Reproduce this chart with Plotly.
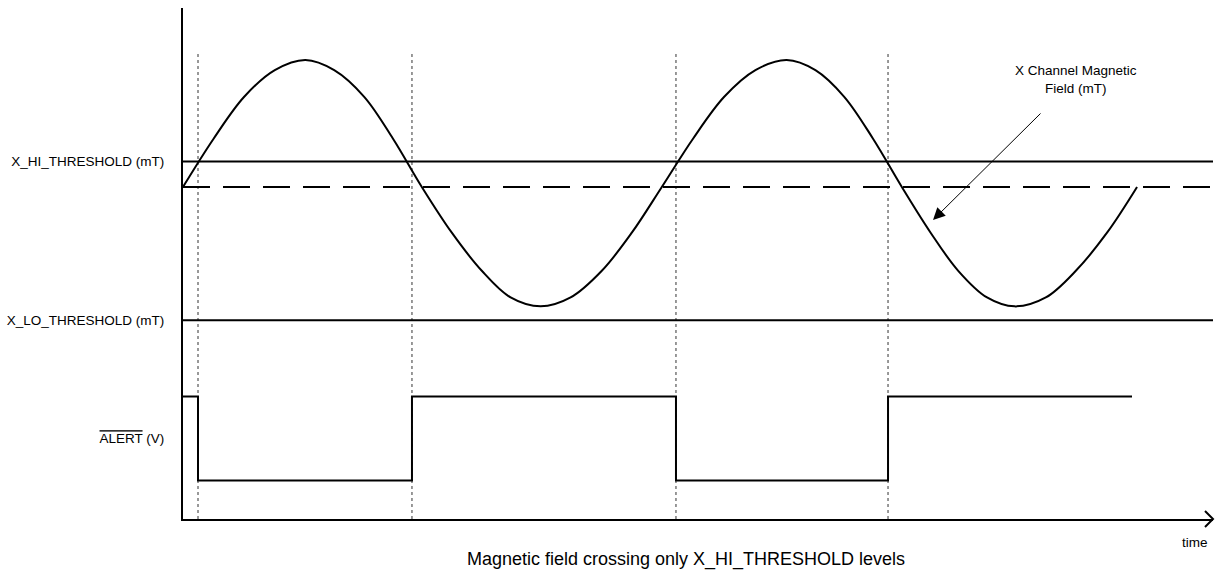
import plotly.graph_objects as go

# time axis (arbitrary units) and signal levels
wave_t = [0, 0.255, 0.51, 0.765, 1.02, 1.26, 1.51, 1.75, 1.99,
          2.24, 2.49, 2.73, 2.98, 3.23, 3.49, 3.74, 3.99,
          4.25, 4.51, 4.77, 5.03, 5.27, 5.51, 5.75, 5.99,
          6.23, 6.46, 6.70, 6.93, 7.19, 7.44, 7.70, 7.95]
wave_b = [0, 0.38, 0.71, 0.92, 1.0, 0.92, 0.71, 0.38, 0,
          -0.36, -0.66, -0.87, -0.94, -0.87, -0.66, -0.36, 0,
          0.38, 0.71, 0.92, 1.0, 0.92, 0.71, 0.38, 0,
          -0.36, -0.66, -0.87, -0.94, -0.87, -0.66, -0.36, 0]

x_hi_threshold = 0.2
x_lo_threshold = -1.05
alert_high = -1.65
alert_low = -2.31

alert_t = [0, 0.125, 1.908, 4.108, 5.875, 7.908]
alert_v = [alert_high, alert_low, alert_high, alert_low, alert_high, alert_high]

crossing_t = [0.125, 1.908, 4.108, 5.875]

t_max = 8.583
y_min, y_max = -2.614, 1.409
marker_top = 1.07

tick_vals = [x_hi_threshold, x_lo_threshold, (alert_high + alert_low) / 2]
tick_text = ['X_HI_THRESHOLD (mT)', 'X_LO_THRESHOLD (mT)',
             '<span style="text-decoration:overline">ALERT</span> (V)']

font = 'Liberation Sans, Arial, sans-serif'

data = []

# dotted markers at each threshold crossing
dx, dy = [], []
for t in crossing_t:
    dx += [t, t, None]
    dy += [y_min, marker_top, None]
data.append(go.Scatter(x=dx, y=dy, mode='lines', line=dict(color='#333333', width=1, dash='dot')))

# threshold levels and field midline
data.append(go.Scatter(x=[0, t_max], y=[x_hi_threshold, x_hi_threshold], mode='lines',
                       line=dict(color='black', width=2)))
data.append(go.Scatter(x=[0, t_max], y=[x_lo_threshold, x_lo_threshold], mode='lines',
                       line=dict(color='black', width=2)))
data.append(go.Scatter(x=[0, t_max], y=[0, 0], mode='lines',
                       line=dict(color='black', width=2, dash='27px,13px')))

# magnetic field
data.append(go.Scatter(x=wave_t, y=wave_b, mode='lines',
                       line=dict(color='black', width=2, shape='spline', smoothing=1)))

# ALERT output
data.append(go.Scatter(x=alert_t, y=alert_v, mode='lines',
                       line=dict(color='black', width=2, shape='hv')))

layout = go.Layout(
    width=1215, height=571,
    margin=dict(l=183, r=2, t=8, b=52),
    plot_bgcolor='white', paper_bgcolor='white',
    showlegend=False, hovermode=False,
    font=dict(family=font, color='black', size=13.5),
    xaxis=dict(range=[0, t_max], showgrid=False, zeroline=False, showline=True,
               linecolor='black', linewidth=2, showticklabels=False, ticks=''),
    yaxis=dict(range=[y_min, y_max], showgrid=False, zeroline=False, showline=True,
               linecolor='black', linewidth=2, ticks='', tickvals=tick_vals, ticktext=tick_text,
               ticklabelstandoff=14, tickfont=dict(size=13.5)),
    title=dict(text='Magnetic field crossing only X_HI_THRESHOLD levels', xref='container', x=0.5646,
               xanchor='center', yref='container', y=0.021, yanchor='middle',
               font=dict(family=font, size=18, color='black')),
    shapes=[dict(type='path', xref='paper', yref='paper', xsizemode='pixel', ysizemode='pixel',
                 xanchor=1, yanchor=0, path='M -8 8 L 0 0 L -8 -8',
                 line=dict(color='black', width=2))],
    annotations=[
        dict(x=6.25, y=-0.26, xref='x', yref='y', ax=109, ay=-108, text='', showarrow=True,
             arrowhead=2, arrowsize=2.4, arrowwidth=1, arrowcolor='black'),
        dict(x=7.44, y=0.85, xref='x', yref='y', text='X Channel Magnetic<br>Field (mT)',
             showarrow=False, font=dict(size=13.5)),
        dict(x=8.43, y=0, xref='x', yref='paper', yanchor='top', yshift=-14, text='time',
             showarrow=False, font=dict(size=13.5)),
    ],
)

fig = go.Figure(data, layout)
# drop the default page margin so the figure fills the window exactly
fig.write_html('out.html', config={'displayModeBar': False},
               post_script="document.body.style.margin='0px';document.body.style.overflow='hidden';")
